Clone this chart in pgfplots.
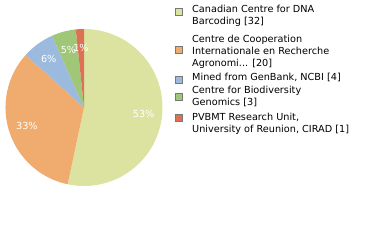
\documentclass[border=0pt]{standalone}
\usepackage{fontspec}
\setmainfont{DejaVu Sans}
\usepackage{pgfplots}
\usepackage{pgfplotstable}
\pgfplotsset{compat=1.18}

\definecolor{c1}{RGB}{220,227,160}
\definecolor{c2}{RGB}{240,172,110}
\definecolor{c3}{RGB}{155,186,222}
\definecolor{c4}{RGB}{160,198,120}
\definecolor{c5}{RGB}{222,112,86}
\definecolor{swborder}{RGB}{120,120,120}

\pgfplotstableread{
count
32
20
4
3
1
}\piedata

\begin{document}
\begin{tikzpicture}
\pgfplotstablegetelem{0}{count}\of\piedata\let\cA\pgfplotsretval
\pgfplotstablegetelem{1}{count}\of\piedata\let\cB\pgfplotsretval
\pgfplotstablegetelem{2}{count}\of\piedata\let\cC\pgfplotsretval
\pgfplotstablegetelem{3}{count}\of\piedata\let\cD\pgfplotsretval
\pgfplotstablegetelem{4}{count}\of\piedata\let\cE\pgfplotsretval
\pgfmathsetmacro\tot{\cA+\cB+\cC+\cD+\cE}
\pgfmathsetmacro\aA{90}
\pgfmathsetmacro\aB{\aA-360*\cA/\tot}
\pgfmathsetmacro\aC{\aB-360*\cB/\tot}
\pgfmathsetmacro\aD{\aC-360*\cC/\tot}
\pgfmathsetmacro\aE{\aD-360*\cD/\tot}
\pgfmathsetmacro\aF{\aE-360*\cE/\tot}
\pgfmathtruncatemacro\pA{100*\cA/\tot+0.001}
\pgfmathtruncatemacro\pB{100*\cB/\tot+0.001}
\pgfmathtruncatemacro\pC{100*\cC/\tot+0.001}
\pgfmathtruncatemacro\pD{100*\cD/\tot+0.001}
\pgfmathtruncatemacro\pE{100*\cE/\tot+0.001}
\begin{axis}[
  x=1bp, y=1bp,
  xmin=0, xmax=380, ymin=0, ymax=240,
  hide axis, clip=false,
  xtick=\empty, ytick=\empty,
  anchor=origin, at={(0,0)},
]
\def\cx{84}\def\cy{132.5}\def\R{78.5bp}\def\rl{60bp}
\fill[c1] (axis cs:\cx,\cy) -- ++(\aA:\R) arc[start angle=\aA, end angle=\aB, radius=\R] -- cycle;
\fill[c2] (axis cs:\cx,\cy) -- ++(\aB:\R) arc[start angle=\aB, end angle=\aC, radius=\R] -- cycle;
\fill[c3] (axis cs:\cx,\cy) -- ++(\aC:\R) arc[start angle=\aC, end angle=\aD, radius=\R] -- cycle;
\fill[c4] (axis cs:\cx,\cy) -- ++(\aD:\R) arc[start angle=\aD, end angle=\aE, radius=\R] -- cycle;
\fill[c5] (axis cs:\cx,\cy) -- ++(\aE:\R) arc[start angle=\aE, end angle=\aF, radius=\R] -- cycle;
\tikzset{pl/.style={text=white, inner sep=0pt, font=\fontsize{9.7bp}{12bp}\selectfont}}
\path (axis cs:\cx,\cy) ++({(\aA+\aB)/2}:\rl) node[pl] {\pA\%};
\path (axis cs:\cx,\cy) ++({(\aB+\aC)/2}:\rl) node[pl] {\pB\%};
\path (axis cs:\cx,\cy) ++({(\aC+\aD)/2}:\rl) node[pl] {\pC\%};
\path (axis cs:\cx,\cy) ++({(\aD+\aE)/2}:\rl) node[pl] {\pD\%};
\path (axis cs:\cx,\cy) ++({(\aE+\aF)/2}:\rl) node[pl] {\pE\%};
% legend
\tikzset{sw/.style={draw=swborder, line width=0.8bp}}
\filldraw[sw, fill=c1] (axis cs:175,224.2) rectangle (axis cs:182,231.2);
\filldraw[sw, fill=c2] (axis cs:175,186.5) rectangle (axis cs:182,193.5);
\filldraw[sw, fill=c3] (axis cs:175,156.5) rectangle (axis cs:182,163.5);
\filldraw[sw, fill=c4] (axis cs:175,139.8) rectangle (axis cs:182,146.8);
\filldraw[sw, fill=c5] (axis cs:175,118.2) rectangle (axis cs:182,125.2);
\tikzset{lt/.style={anchor=base west, inner sep=0pt, text=black, font=\fontsize{9.7bp}{12bp}\selectfont}}
\node[lt] at (axis cs:192,227.7) {Canadian Centre for DNA};
\node[lt] at (axis cs:192,215.3) {Barcoding [32]};
\node[lt] at (axis cs:192,197.7) {Centre de Cooperation};
\node[lt] at (axis cs:192,185.7) {Internationale en Recherche};
\node[lt] at (axis cs:192,173.3) {Agronomi... [20]};
\node[lt] at (axis cs:192,159.7) {Mined from GenBank, NCBI [4]};
\node[lt] at (axis cs:192,146.3) {Centre for Biodiversity};
\node[lt] at (axis cs:192,134.3) {Genomics [3]};
\node[lt] at (axis cs:192,119.7) {PVBMT Research Unit,};
\node[lt] at (axis cs:192,107.3) {University of Reunion, CIRAD [1]};
\end{axis}
\pgfresetboundingbox
\path[use as bounding box] (0,0) rectangle (380bp,240bp);
\end{tikzpicture}
\end{document}
